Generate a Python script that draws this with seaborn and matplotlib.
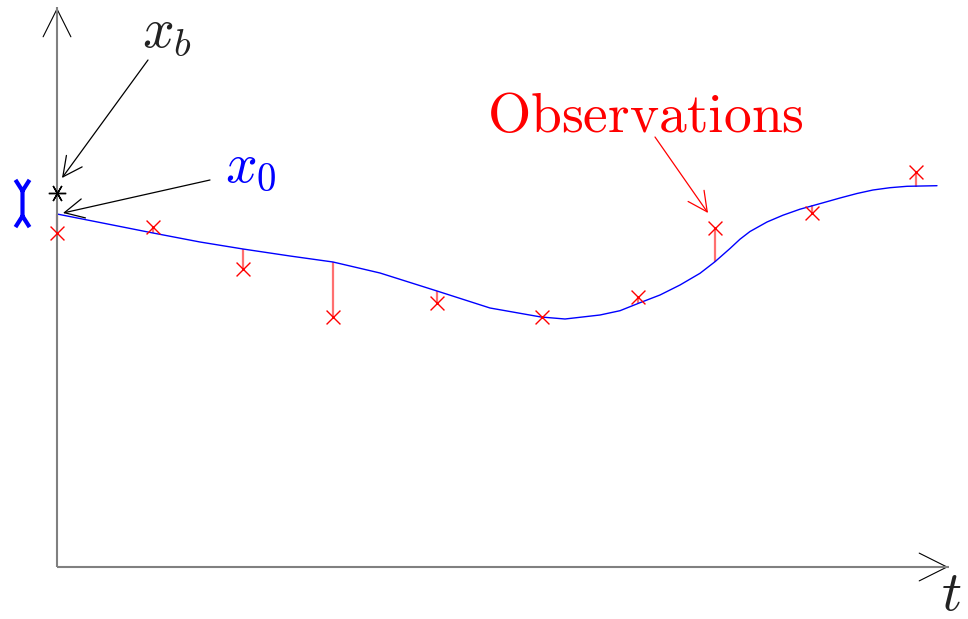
import numpy as np
import matplotlib
matplotlib.use("Agg")
import matplotlib.pyplot as plt
import seaborn as sns
from matplotlib.path import Path
from matplotlib.patches import ArrowStyle

# ---------- data (t = time, x = state value) ----------
# trajectory of the analysed state started from x0
traj_t = [0, 43, 96, 143, 186, 233, 276, 323, 380, 433, 484, 508, 543, 563,
          583, 603, 623, 643, 658, 673, 683, 693, 710, 726, 743, 766, 783,
          800, 816, 833, 850, 880]
traj_x = [353, 344.5, 334, 325, 318, 311, 305, 294, 276, 259, 250, 248, 252,
          256.3, 264.3, 272, 282, 293.7, 305.3, 318.5, 327.8, 335.5, 345,
          351.8, 357.8, 364.2, 369, 373.5, 377, 379.3, 380.7, 381.3]

# observations and model equivalent at observation times
obs_t = [0, 96, 186, 276, 380, 485, 581, 658, 755, 859]
obs_x = [334, 340, 298, 250, 264, 250, 270, 339, 354, 395]
model_x = [353, 334, 318, 305, 276, 250, 264, 305, 362, 380]

# background state and initial state
xb_t, xb_x = [0], [374]
x0_t, x0_x = [0], [353]
# background error bar symbol
berr_t, berr_x = [-35], [364]

sns.set_theme(style="white")
plt.rcParams["mathtext.fontset"] = "cm"

fig = plt.figure(figsize=(9.68, 6.19), dpi=100)
ax = fig.add_axes([0, 0, 1, 1])
ax.set_xlim(-57, 911)
ax.set_ylim(-52, 567)
ax.axis("off")

# axes with open arrow heads
head = ArrowStyle("->", head_length=20, head_width=10)
ax.annotate("", xy=(0, 562), xytext=(0, 0),
            arrowprops=dict(arrowstyle=head, mutation_scale=1, color="black", lw=0.8))
ax.annotate("", xy=(894, 0), xytext=(0, 0),
            arrowprops=dict(arrowstyle=head, mutation_scale=1, color="black", lw=0.8))
ax.plot([0, 0], [0, 560], color="#808080", lw=1.5, zorder=5, solid_capstyle="butt")
ax.plot([0, 892], [0, 0], color="#808080", lw=1.5, zorder=5, solid_capstyle="butt")

# innovation segments
ax.vlines(obs_t, obs_x, model_x, color="#ff7070", lw=1.6, zorder=2)

# trajectory
sns.lineplot(x=traj_t, y=traj_x, sort=False, estimator=None, color="blue",
             lw=1.0, ax=ax, zorder=3)

# observations
sns.scatterplot(x=obs_t, y=obs_x, marker="x", s=100, color="red",
                linewidth=1.0, ax=ax, zorder=6)

# background state
ax.plot(xb_t, xb_x, ls="none", marker=(6, 2, 90), ms=12.5, mew=1.0,
        color="black", zorder=6)

# background error symbol
verts = [(-7, 23.5), (0, 12.5), (7, 23.5), (0, 12.5), (0, -12.5),
         (-7, -23.5), (0, -12.5), (7, -23.5)]
codes = [Path.MOVETO, Path.LINETO, Path.LINETO, Path.MOVETO, Path.LINETO,
         Path.MOVETO, Path.LINETO, Path.LINETO]
berr_marker = Path(verts, codes)
ax.plot(berr_t, berr_x, ls="none", marker=berr_marker, ms=34, mew=3.0,
        color="blue", mfc="none")

# labels with arrows
small = ArrowStyle("->", head_length=14, head_width=7)
ax.annotate("", xy=(5, 389), xytext=(91, 507),
            arrowprops=dict(arrowstyle=small, mutation_scale=1, color="black",
                            lw=0.9, shrinkA=0, shrinkB=0))
ax.annotate("", xy=(6, 354), xytext=(153, 387),
            arrowprops=dict(arrowstyle=small, mutation_scale=1, color="black",
                            lw=0.9, shrinkA=0, shrinkB=0))
ax.annotate("", xy=(651, 354), xytext=(598, 430),
            arrowprops=dict(arrowstyle=small, mutation_scale=1, color="red",
                            lw=0.9, shrinkA=0, shrinkB=0))

ax.text(85, 520, r"$x_b$", fontsize=40, color="#222222", ha="left", va="baseline")
ax.text(168, 385, r"$x_0$", fontsize=40, color="blue", ha="left", va="baseline")
ax.text(430, 435, r"$\mathrm{Observations}$", fontsize=40, color="red",
        ha="left", va="baseline")
ax.text(884, -43, r"$t$", fontsize=40, color="#222222", ha="left", va="baseline")

fig.savefig("out.png", dpi=100)
